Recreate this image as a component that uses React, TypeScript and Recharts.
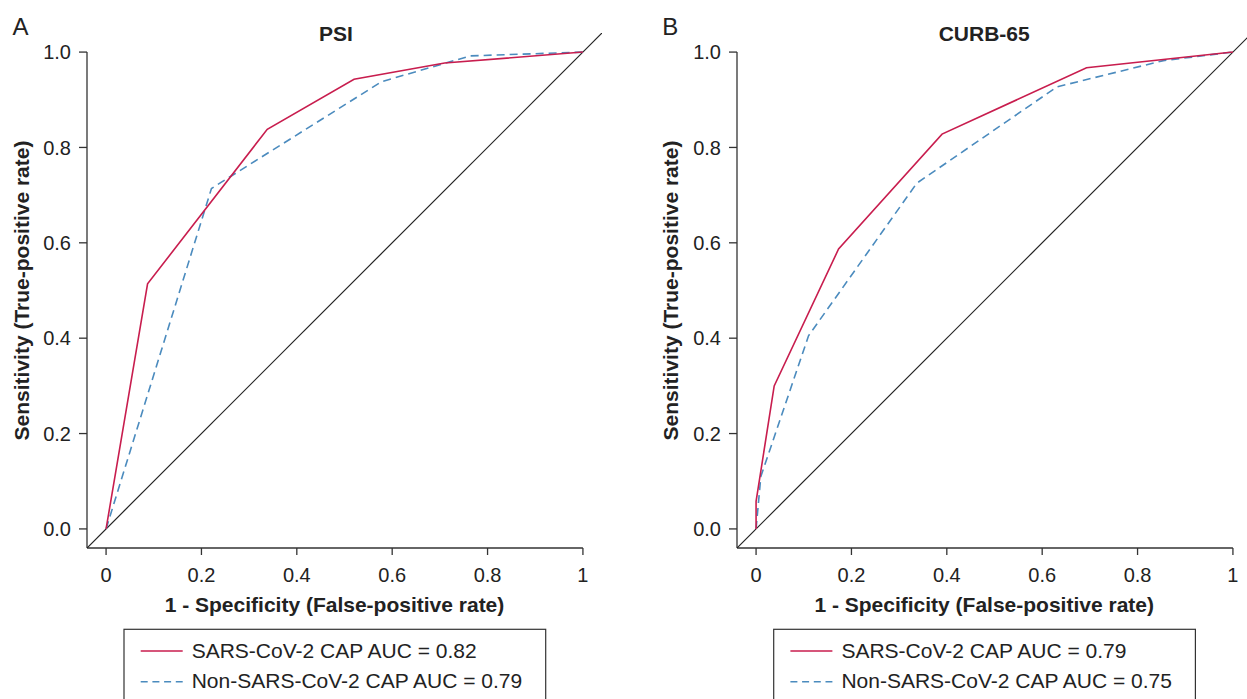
import { LineChart, Line, XAxis, YAxis, ReferenceLine } from 'recharts';

// PSI panel
const psiSarsFpr = [0, 0.087, 0.338, 0.52, 0.71, 1];
const psiSarsTpr = [0, 0.514, 0.838, 0.943, 0.977, 1];
const psiNonFpr = [0, 0.221, 0.578, 0.764, 1];
const psiNonTpr = [0, 0.714, 0.938, 0.992, 1];

// CURB-65 panel
const curbSarsFpr = [0, 0, 0.038, 0.173, 0.39, 0.693, 1];
const curbSarsTpr = [0, 0.058, 0.3, 0.587, 0.828, 0.967, 1];
const curbNonFpr = [0, 0.01, 0.11, 0.337, 0.631, 0.854, 1];
const curbNonTpr = [0, 0.11, 0.405, 0.725, 0.927, 0.982, 1];

const refFpr = [-0.04, 1.04];
const refTpr = [-0.04, 1.04];

const ticks = [0, 0.2, 0.4, 0.6, 0.8, 1];
const domain: [number, number] = [-0.04, 1.04];

const RED = '#c81d4e';
const BLUE = '#4b8bbe';
const AXIS = '#333';
const FONT = '"Liberation Sans", Arial, Helvetica, sans-serif';

const zip = (xs: number[], ys: number[]) => xs.map((x, i) => ({ x, y: ys[i] }));

const panels = [
  {
    letter: 'A',
    title: 'PSI',
    left: 0,
    sars: zip(psiSarsFpr, psiSarsTpr),
    non: zip(psiNonFpr, psiNonTpr),
    sarsLabel: 'SARS-CoV-2 CAP AUC = 0.82',
    nonLabel: 'Non-SARS-CoV-2 CAP AUC = 0.79',
  },
  {
    letter: 'B',
    title: 'CURB-65',
    left: 649.7,
    sars: zip(curbSarsFpr, curbSarsTpr),
    non: zip(curbNonFpr, curbNonTpr),
    sarsLabel: 'SARS-CoV-2 CAP AUC = 0.79',
    nonLabel: 'Non-SARS-CoV-2 CAP AUC = 0.75',
  },
];

const fmtX = (v: number) => (v === 0 ? '0' : v === 1 ? '1' : v.toFixed(1));

function Panel({ p }: { p: (typeof panels)[number] }) {
  return (
    <div style={{ position: 'absolute', left: p.left, top: 0 }}>
      <LineChart width={620} height={600} margin={{ top: 33, right: 18, bottom: 0, left: 0 }}>
        <XAxis
          type="number"
          dataKey="x"
          domain={domain}
          ticks={ticks}
          interval={0}
          allowDataOverflow
          axisLine={false}
          tickSize={7}
          tickMargin={13}
          height={52}
          tickFormatter={fmtX}
          tick={{ fill: '#222', fontSize: 20 }}
          tickLine={{ stroke: AXIS, strokeWidth: 1.3 }}
        />
        <YAxis
          type="number"
          dataKey="y"
          domain={domain}
          ticks={ticks}
          interval={0}
          allowDataOverflow
          axisLine={false}
          width={87}
          tickSize={8}
          tickMargin={8}
          tickFormatter={(v: number) => v.toFixed(1)}
          tick={{ fill: '#222', fontSize: 20 }}
          tickLine={{ stroke: AXIS, strokeWidth: 1.3 }}
        />
        <ReferenceLine
          segment={[{ x: -0.04, y: -0.04 }, { x: 1, y: -0.04 }]}
          stroke={AXIS}
          strokeWidth={1.3}
          ifOverflow="visible"
        />
        <ReferenceLine
          segment={[{ x: -0.04, y: -0.04 }, { x: -0.04, y: 1 }]}
          stroke={AXIS}
          strokeWidth={1.3}
          ifOverflow="visible"
        />
        <Line
          data={zip(refFpr, refTpr)}
          dataKey="y"
          stroke="#222"
          strokeWidth={1.2}
          dot={false}
          isAnimationActive={false}
        />
        <Line
          data={p.non}
          dataKey="y"
          stroke={BLUE}
          strokeWidth={1.6}
          strokeDasharray="8 5"
          dot={false}
          isAnimationActive={false}
        />
        <Line
          data={p.sars}
          dataKey="y"
          stroke={RED}
          strokeWidth={1.6}
          dot={false}
          isAnimationActive={false}
        />
      </LineChart>
    </div>
  );
}

function Overlay({ p }: { p: (typeof panels)[number] }) {
  const o = p.left;
  return (
    <g transform={`translate(${o},0)`}>
      <text x={12.5} y={35} fontSize={24} fill="#222">{p.letter}</text>
      <text x={p.letter === 'A' ? 336 : 334.5} y={41} fontSize={21} fontWeight="bold" fill="#222" textAnchor="middle">
        {p.title}
      </text>
      <text
        transform="translate(28.5,290.5) rotate(-90)"
        fontSize={21}
        fontWeight="bold"
        fill="#222"
        textAnchor="middle"
      >
        Sensitivity (True-positive rate)
      </text>
      <text x={334.5} y={612} fontSize={21} fontWeight="bold" fill="#222" textAnchor="middle">
        1 - Specificity (False-positive rate)
      </text>
      <rect x={124} y={629.3} width={421.7} height={100} fill="none" stroke={AXIS} strokeWidth={1.2} />
      <line x1={140.7} x2={182.7} y1={651} y2={651} stroke={RED} strokeWidth={1.4} />
      <text x={191.7} y={658.3} fontSize={21} fill="#222">{p.sarsLabel}</text>
      <line x1={140.7} x2={182.7} y1={681.7} y2={681.7} stroke={BLUE} strokeWidth={1.4} strokeDasharray="7 4.7" />
      <text x={191.7} y={688.3} fontSize={21} fill="#222">{p.nonLabel}</text>
    </g>
  );
}

export default function App() {
  return (
    <div
      style={{
        position: 'absolute',
        left: 0,
        top: 0,
        width: 1247,
        height: 699,
        overflow: 'hidden',
        background: '#fff',
        fontFamily: FONT,
      }}
    >
      {panels.map(p => (
        <Panel key={p.letter} p={p} />
      ))}
      <svg
        width={1247}
        height={699}
        style={{ position: 'absolute', left: 0, top: 0, pointerEvents: 'none', fontFamily: FONT }}
      >
        {panels.map(p => (
          <Overlay key={p.letter} p={p} />
        ))}
      </svg>
    </div>
  );
}
